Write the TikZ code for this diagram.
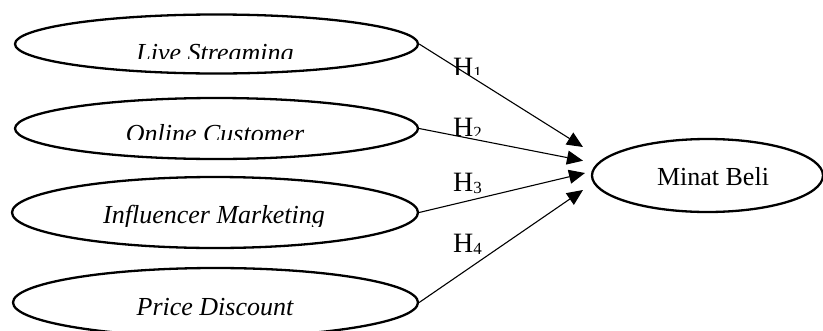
\documentclass[tikz,border=0pt]{standalone}
\usepackage{fontspec}
\setmainfont{Liberation Serif}
\usetikzlibrary{shapes.geometric,arrows.meta}

% lowered, smaller index after a hypothesis letter
\newcommand{\hsub}[1]{\raisebox{-2pt}{\fontsize{17}{17}\selectfont #1}}

\begin{document}
\begin{tikzpicture}[x=1pt,y=-1pt,
  var/.style={ellipse, draw, line width=2.3pt, inner sep=0pt},
  lbl/.style={inner sep=0pt, anchor=base, font=\fontsize{26}{30}\selectfont},
  itlbl/.style={inner sep=0pt, anchor=base, font=\fontsize{26}{30}\selectfont\itshape},
  hyp/.style={inner sep=0pt, anchor=base west, font=\fontsize{28}{32}\selectfont},
  link/.style={line width=1.1pt, -{Triangle[length=16pt,width=14pt]}}
]
\useasboundingbox (0,0) rectangle (823,330);

% independent variables
\node[var, minimum width=403pt, minimum height=59pt] (e1) at (216.5,44) {};
\node[var, minimum width=403pt, minimum height=61pt] (e2) at (216.5,128.5) {};
\node[var, minimum width=406pt, minimum height=71pt] (e3) at (215,212.5) {};
\node[var, minimum width=405pt, minimum height=69pt] (e4) at (215.5,302.5) {};

% dependent variable
\node[var, minimum width=231pt, minimum height=73pt] (mb) at (707.5,175.5) {};
\node[lbl] (tmb) at (713,185) {Minat Beli};

% variable names (text boxes cut off at the bottom)
\begin{scope}
  \clip (0,0) rectangle (823,58);
  \node[itlbl] (t1) at (215,61) {Live Streaming};
\end{scope}
\begin{scope}
  \clip (0,100) rectangle (823,139.5);
  \node[itlbl] (t2) at (215,142) {Online Customer};
\end{scope}
\begin{scope}
  \clip (0,180) rectangle (823,226);
  \node[itlbl] (t3) at (214,223) {Influencer Marketing};
\end{scope}
\node[itlbl] (t4) at (215,315) {Price Discount};

% arrow targets
\coordinate (p1) at (583,147);
\coordinate (p2) at (583,160.7);
\coordinate (p3) at (585,173);
\coordinate (p4) at (583,190);

\draw[link] (e1.east) -- (p1);
\draw[link] (e2.east) -- (p2);
\draw[link] (e3.east) -- (p3);
\draw[link] (e4.east) -- (p4);

% hypothesis labels
\begin{scope}
  \clip (430,40) rectangle (520,74);
  \node[hyp] (h1) at (453,76) {H\hsub{1}};
\end{scope}
\begin{scope}
  \clip (430,100) rectangle (520,135);
  \node[hyp] (h2) at (453,136) {H\hsub{2}};
\end{scope}
\begin{scope}
  \clip (430,160) rectangle (520,193);
  \node[hyp] (h3) at (453,191) {H\hsub{3}};
\end{scope}
\begin{scope}
  \clip (430,220) rectangle (520,253);
  \node[hyp] (h4) at (453,252.5) {H\hsub{4}};
\end{scope}
\end{tikzpicture}
\end{document}
